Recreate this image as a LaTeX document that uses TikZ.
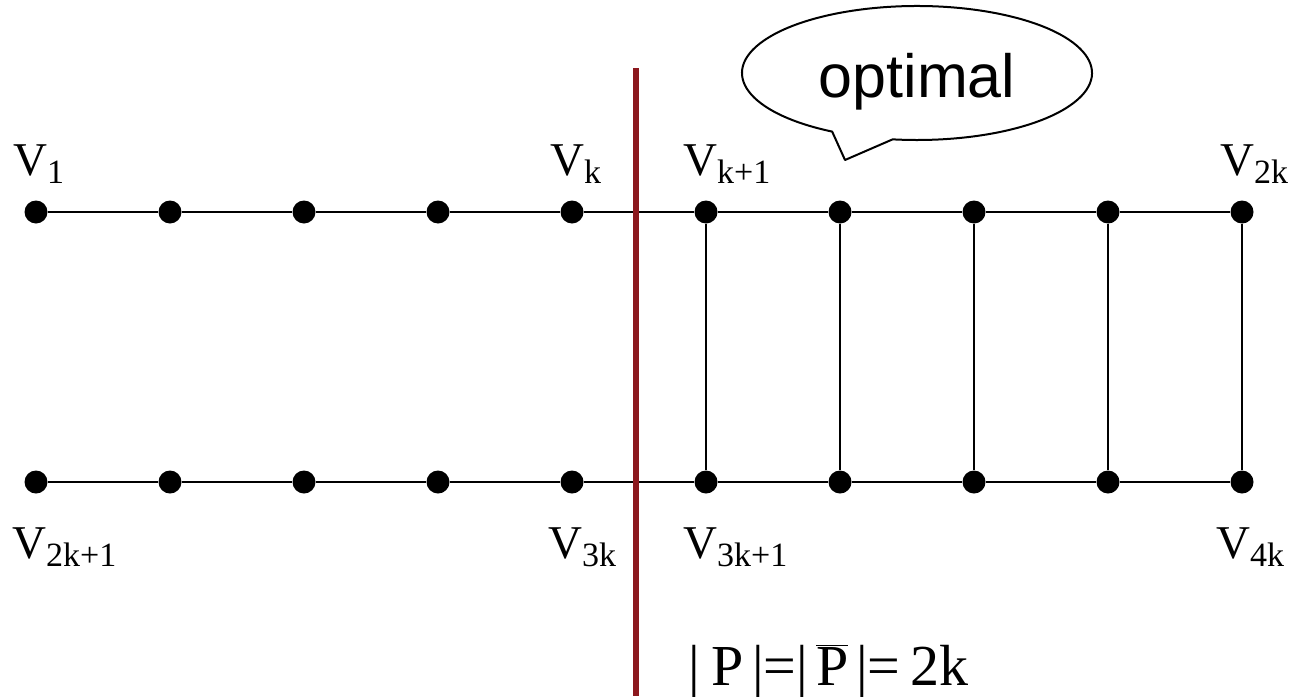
\documentclass[tikz,border=0pt]{standalone}
\usepackage{fontspec}
\setmainfont{Liberation Serif}
\newfontfamily\arialfont{Liberation Sans}
\definecolor{cutred}{RGB}{140,24,30}
\newcommand\vlab[1]{V\raisebox{-8pt}{\fontsize{34}{34}\selectfont #1}}
\tikzset{
  vtx/.style={circle,fill=black,inner sep=0pt,minimum size=23pt},
  edge/.style={line width=2.4pt,black},
  vlabel/.style={anchor=base west,inner sep=0pt,font=\fontsize{47}{47}\selectfont},
}
\begin{document}
\begin{tikzpicture}[x=1pt,y=-1pt]
\useasboundingbox (0,0) rectangle (1297,696);
% vertices
\foreach \i in {1,...,10}{
  \node[vtx] (t\i) at ({36+134*(\i-1)},212) {};
  \node[vtx] (b\i) at ({36+134*(\i-1)},482) {};
}
% edges
\draw[edge] (t1) -- (t2) -- (t3) -- (t4) -- (t5) -- (t6) -- (t7) -- (t8) -- (t9) -- (t10);
\draw[edge] (b1) -- (b2) -- (b3) -- (b4) -- (b5) -- (b6) -- (b7) -- (b8) -- (b9) -- (b10);
\foreach \i in {6,...,10}{ \draw[edge] (t\i) -- (b\i); }
% labels
\node[vlabel] (l1) at (13,175) {\vlab{1}};
\node[vlabel] (lk) at (550,175) {\vlab{k}};
\node[vlabel] (lk1) at (683,175) {\vlab{k+1}};
\node[vlabel] (l2k) at (1220,175) {\vlab{2k}};
\node[vlabel] (l2k1) at (12,558) {\vlab{2k+1}};
\node[vlabel] (l3k) at (548,558) {\vlab{3k}};
\node[vlabel] (l3k1) at (683,558) {\vlab{3k+1}};
\node[vlabel] (l4k) at (1216,558) {\vlab{4k}};
% cut line
\coordinate (cuttop) at (636,68);
\coordinate (cutbot) at (636,696);
\draw[line width=6.5pt,cutred] (cuttop) -- (cutbot);
% speech bubble
\coordinate (bubc) at (917,73);
\coordinate (tip) at (845,160);
\draw[line width=2pt,black,line join=round] (bubc) ++(119:175 and 67)
  arc[start angle=119,end angle=458,x radius=175,y radius=67] -- (tip) -- cycle;
\node[font=\arialfont\fontsize{61}{61}\selectfont,inner sep=0pt,anchor=base] (opt) at (917,97) {optimal};
% formula
\node[anchor=base west,inner sep=0pt,font=\fontsize{58}{58}\selectfont] (formula) at (688,685)
  {|\hspace{12pt}P\hspace{8pt}|=|\hspace{8pt}$\overline{\hbox{P}}$\hspace{8pt}|=\hspace{10pt}2k};
\end{tikzpicture}
\end{document}
